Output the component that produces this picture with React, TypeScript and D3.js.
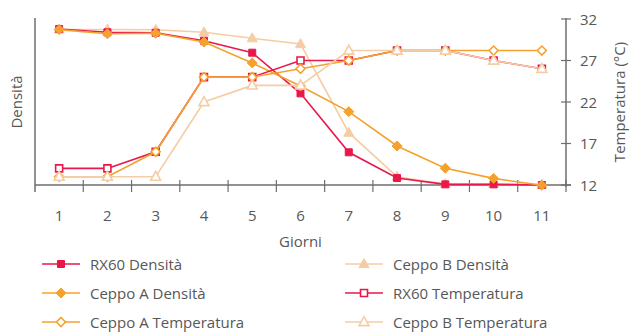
import React from "react";
import * as d3 from "d3";

const days = ["1", "2", "3", "4", "5", "6", "7", "8", "9", "10", "11"];
const tempTicks = [12, 17, 22, 27, 32];

// Density (arbitrary units, left axis unlabeled)
const rx60Dens = [1084, 1082, 1081.7, 1076.9, 1069.7, 1045.2, 1009.7, 994.2, 990.4, 990.4, 990];
const ceppoADens = [1083.6, 1081.1, 1081.4, 1076.1, 1063.5, 1049.6, 1034.2, 1013.5, 1000.1, 994, 989.8];
const ceppoBDens = [1083.7, 1083.7, 1083.5, 1082, 1078.4, 1074.9, 1021.5, 995, 990.6, 990.6, 990.3];

// Temperature (°C)
const rx60Temp = [14, 14, 16, 25, 25, 27, 27, 28.2, 28.2, 27, 26];
const ceppoATemp = [13, 13, 16, 25, 25, 26, 27, 28.2, 28.2, 28.2, 28.2];
const ceppoBTemp = [13, 13, 13, 22, 24, 24, 28.2, 28.2, 28.2, 27, 26];

const RED = "#e8194a";
const ORANGE = "#f4a22d";
const TAN = "#f5cda5";

type Sym = "square" | "diamond" | "triangle";
interface Series { name: string; values: number[]; axis: "d" | "t"; color: string; sym: Sym; filled: boolean; }

const series: Series[] = [
  { name: "Ceppo B Densità", values: ceppoBDens, axis: "d", color: TAN, sym: "triangle", filled: true },
  { name: "RX60 Densità", values: rx60Dens, axis: "d", color: RED, sym: "square", filled: true },
  { name: "Ceppo A Densità", values: ceppoADens, axis: "d", color: ORANGE, sym: "diamond", filled: true },
  { name: "RX60 Temperatura", values: rx60Temp, axis: "t", color: RED, sym: "square", filled: false },
  { name: "Ceppo A Temperatura", values: ceppoATemp, axis: "t", color: ORANGE, sym: "diamond", filled: false },
  { name: "Ceppo B Temperatura", values: ceppoBTemp, axis: "t", color: TAN, sym: "triangle", filled: false },
];

const legendOrder = [
  ["RX60 Densità", "Ceppo A Densità", "Ceppo A Temperatura"],
  ["Ceppo B Densità", "RX60 Temperatura", "Ceppo B Temperatura"],
];

const FONT = "'Open Sans', sans-serif";
const FS = 15;
const TXT = "#575757";
const AX = "#6e6e6e";

function symPath(sym: Sym, filled: boolean): string {
  if (sym === "square") {
    const s = 7;
    return `M${-s / 2},${-s / 2}h${s}v${s}h${-s}Z`;
  }
  if (sym === "diamond") {
    const r = filled ? 5 : 4.5;
    return `M0,${-r}L${r},0L0,${r}L${-r},0Z`;
  }
  const h = 9, w = 10;
  return `M0,${-h * 0.6}L${w / 2},${h * 0.4}L${-w / 2},${h * 0.4}Z`;
}

function Marker({ s, x, y }: { s: Series; x: number; y: number }) {
  return (
    <path
      d={symPath(s.sym, s.filled)}
      transform={`translate(${x},${y})`}
      fill={s.filled ? s.color : "#fff"}
      stroke={s.color}
      strokeWidth={s.filled ? 1 : 1.6}
    />
  );
}

export default function App() {
  const W = 629, H = 332;
  const left = 35, right = 566, top = 19, bottom = 185;
  const x = d3.scaleBand<string>().domain(days).range([left, right]).padding(0);
  const cx = (d: string) => (x(d) as number) + x.bandwidth() / 2;
  const yT = d3.scaleLinear().domain([12, 32]).range([bottom, top]);
  const yD = d3.scaleLinear().domain([990, 1090]).range([bottom, top]);

  const line = (s: Series) =>
    d3.line<number>()
      .x((_, i) => cx(days[i]))
      .y((v) => (s.axis === "t" ? yT(v) : yD(v)))(s.values) as string;

  const boundaries = days.map((d) => x(d) as number).concat([right]);
  const byName = (n: string) => series.find((s) => s.name === n)!;

  return (
    <svg width={W} height={H} style={{ position: "absolute", left: 0, top: 0, display: "block" }} fontFamily={FONT}>
      {/* left axis */}
      <line x1={left} x2={left} y1={top - 1} y2={bottom + 7} stroke={AX} strokeWidth={1.5} />
      {/* bottom axis */}
      <line x1={left} x2={right + 5} y1={bottom} y2={bottom} stroke={AX} strokeWidth={1.5} />
      {boundaries.slice(1).map((b, i) => (
        <line key={i} x1={b} x2={b} y1={bottom - 5} y2={bottom + 7} stroke={AX} strokeWidth={1.2} />
      ))}
      {days.map((d) => (
        <text key={d} x={cx(d)} y={220.5} textAnchor="middle" fontSize={FS} fill={TXT}>{d}</text>
      ))}
      <text x={(left + right) / 2} y={246.5} textAnchor="middle" fontSize={FS} fill={TXT}>Giorni</text>
      {/* right axis */}
      <line x1={right} x2={right} y1={top - 1} y2={bottom + 2} stroke={AX} strokeWidth={1.5} />
      {tempTicks.map((t) => (
        <g key={t}>
          <line x1={right - 5} x2={right + 5} y1={yT(t)} y2={yT(t)} stroke={AX} strokeWidth={1.2} />
          <text x={580} y={yT(t) + 5.5} fontSize={FS} fill={TXT}>{t}</text>
        </g>
      ))}
      <text transform={`translate(625,${(top + bottom) / 2}) rotate(-90)`} textAnchor="middle" fontSize={FS} fill={TXT}>Temperatura (°C)</text>
      <text transform={`translate(22,${(top + bottom) / 2}) rotate(-90)`} textAnchor="middle" fontSize={FS} fill={TXT}>Densità</text>

      {/* series */}
      {series.map((s) => (
        <g key={s.name}>
          <path d={line(s)} fill="none" stroke={s.color} strokeWidth={1.6} />
          {s.values.map((v, i) => (
            <Marker key={i} s={s} x={cx(days[i])} y={s.axis === "t" ? yT(v) : yD(v)} />
          ))}
        </g>
      ))}

      {/* legend */}
      {legendOrder.map((col, ci) =>
        col.map((n, ri) => {
          const s = byName(n);
          const lx = ci === 0 ? 42 : 345;
          const ly = 264 + ri * 29;
          return (
            <g key={n}>
              <line x1={lx} x2={lx + 38} y1={ly} y2={ly} stroke={s.color} strokeWidth={1.6} />
              <Marker s={s} x={lx + 19} y={ly} />
              <text x={lx + 48} y={ly + 5.5} fontSize={FS} fill={TXT}>{n}</text>
            </g>
          );
        })
      )}
    </svg>
  );
}
